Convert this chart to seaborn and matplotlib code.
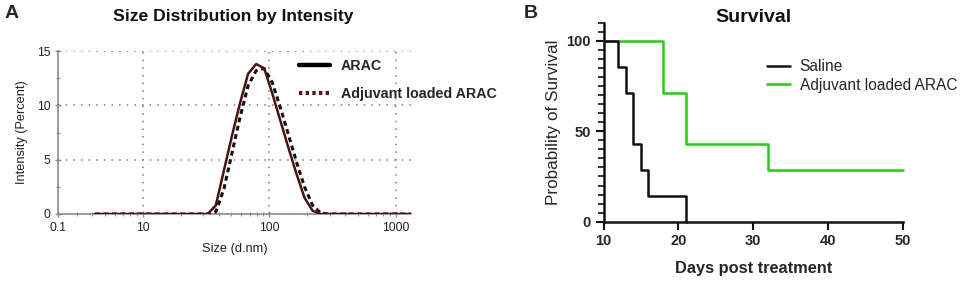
import numpy as np
import pandas as pd
import matplotlib
matplotlib.use("Agg")
import matplotlib.pyplot as plt
from matplotlib.lines import Line2D
from matplotlib.ticker import FixedLocator, LogLocator, NullFormatter, MultipleLocator
import seaborn as sns

sns.set_theme(style="white")
plt.rcParams['font.family'] = ['Liberation Sans', 'DejaVu Sans']

# ---------------- Data ----------------
# Panel A: DLS size bins (d.nm) and intensity (%)
size_nm = [4.187, 4.849, 5.615, 6.503, 7.531, 8.721, 10.10, 11.70, 13.54, 15.69,
           18.17, 21.04, 24.36, 28.21, 32.67, 37.84, 43.82, 50.75, 58.77, 68.06,
           78.82, 91.28, 105.7, 122.4, 141.8, 164.2, 190.1, 220.2, 255.0, 295.3,
           342.0, 396.1, 458.7, 531.2, 615.1, 712.4, 825.0, 955.4, 1106, 1281, 1484]
arac_int = [0, 0, 0, 0, 0, 0, 0, 0, 0, 0,
            0, 0, 0, 0, 0, 0.8, 4.0, 7.2, 10.2, 12.9,
            13.8, 13.4, 11.1, 8.6, 6.1, 3.7, 1.5, 0.3, 0, 0,
            0, 0, 0, 0, 0, 0, 0, 0, 0, 0, 0]
adj_int = [0, 0, 0, 0, 0, 0, 0, 0, 0, 0,
           0, 0, 0, 0, 0, 0.2, 2.3, 5.6, 8.9, 11.8,
           13.2, 13.4, 12.1, 9.8, 7.3, 4.8, 2.5, 0.8, 0.1, 0,
           0, 0, 0, 0, 0, 0, 0, 0, 0, 0, 0]
a_xtick_labels = ['0.1', '10', '100', '1000']

# Panel B: Kaplan-Meier survival
saline_days = [10, 12, 13, 14, 15, 16, 21]
saline_surv = [100, 85.7, 71.4, 42.9, 28.6, 14.3, 0]
adj_days = [10, 18, 21, 32, 50]
adj_surv = [100, 71.4, 42.9, 28.6, 28.6]
b_labels = ['Saline', 'Adjuvant loaded ARAC']

# ---------------- Figure ----------------
W, H = 967, 282
fig = plt.figure(figsize=(W / 100, H / 100), dpi=100)

def fx(px):
    return px / W

def fy(py):
    return 1 - py / H

# ---- Panel A ----
axA = fig.add_axes([fx(58), fy(214), fx(411) - fx(58), fy(51) - fy(214)])
dfa = pd.DataFrame({'size': size_nm, 'arac': arac_int, 'adj': adj_int})
sns.lineplot(data=dfa, x='size', y='adj', ax=axA, color='#141010',
             linewidth=2.2, linestyle=(0, (1.6, 1.2)), estimator=None, sort=False, zorder=3)
sns.lineplot(data=dfa, x='size', y='arac', ax=axA, color='#4a1212',
             linewidth=1.8, estimator=None, sort=False, zorder=4)
axA.set_xscale('log')
xl, xr = 2.14, 1320
axA.set_xlim(xl, xr)
axA.set_ylim(0, 15)
for gx in [10, 100, 1000]:
    axA.axvline(gx, color='#7a7a7a', linestyle=(0, (1, 4)), linewidth=1.1, zorder=1)
for gy in [5, 10, 15]:
    axA.axhline(gy, color='#7a7a7a', linestyle=(0, (1, 4)), linewidth=1.1, zorder=1)
axA.xaxis.set_major_locator(FixedLocator([xl, 10, 100, 1000]))
axA.set_xticklabels(a_xtick_labels)
axA.xaxis.set_minor_locator(LogLocator(base=10, subs=np.arange(2, 10)))
axA.xaxis.set_minor_formatter(NullFormatter())
axA.yaxis.set_major_locator(FixedLocator([0, 5, 10, 15]))
axA.yaxis.set_minor_locator(MultipleLocator(2.5))
for s in ['top', 'right']:
    axA.spines[s].set_visible(False)
for s in ['left', 'bottom']:
    axA.spines[s].set_color('#8a8a8a')
    axA.spines[s].set_linewidth(1.2)
axA.tick_params(which='major', direction='inout', length=5, width=1, color='#8a8a8a',
                labelsize=8.7, labelcolor='#222222', pad=3, left=True, bottom=True)
axA.tick_params(which='minor', direction='inout', length=3, width=0.8, color='#8a8a8a',
                left=True, bottom=True)
axA.set_xlabel('Size (d.nm)', fontsize=9.3, color='#222222', labelpad=7)
axA.set_ylabel('Intensity (Percent)', fontsize=9.2, color='#222222', labelpad=6)
fig.text(fx(233), fy(17), 'Size Distribution by Intensity', ha='center', va='center',
         fontsize=12.6, fontweight='bold', color='#111111')
fig.text(fx(5), fy(13), 'A', ha='left', va='center', fontsize=14, fontweight='bold')
hA = [Line2D([], [], color='black', linewidth=3.2),
      Line2D([], [], color='#5a1616', linewidth=3, linestyle=(0, (0.8, 0.8)))]
fig.legend(hA, ['ARAC', 'Adjuvant loaded ARAC'], loc='upper left',
           bbox_to_anchor=(fx(299), fy(59)), frameon=False, borderpad=0,
           borderaxespad=0, handlelength=2.2, handletextpad=0.72,
           labelspacing=1.0, prop={'size': 10.3, 'weight': 'bold'})

# ---- Panel B ----
axB = fig.add_axes([fx(603.5), fy(221.7), fx(903) - fx(603.5), fy(22.7) - fy(221.7)])
dfs = pd.DataFrame({'day': saline_days, 'surv': saline_surv})
dfg = pd.DataFrame({'day': adj_days, 'surv': adj_surv})
sns.lineplot(data=dfg, x='day', y='surv', ax=axB, color='#22cc11', linewidth=1.8,
             drawstyle='steps-post', estimator=None, sort=False, zorder=3, clip_on=False)
sns.lineplot(data=dfs, x='day', y='surv', ax=axB, color='#111111', linewidth=1.8,
             drawstyle='steps-post', estimator=None, sort=False, zorder=4, clip_on=False)
axB.set_xlim(10, 50)
axB.set_ylim(0, 110)
axB.xaxis.set_major_locator(MultipleLocator(10))
axB.yaxis.set_major_locator(FixedLocator([0, 50, 100]))
axB.yaxis.set_minor_locator(MultipleLocator(5))
for s in ['top', 'right']:
    axB.spines[s].set_visible(False)
for s in ['left', 'bottom']:
    axB.spines[s].set_color('#111111')
    axB.spines[s].set_linewidth(1.8)
axB.tick_params(which='major', direction='out', length=6, width=1.5, color='#111111',
                labelsize=10.5, pad=3, left=True, bottom=True)
axB.tick_params(which='minor', direction='out', length=4, width=1.2, color='#111111',
                left=True, bottom=False)
for lab in axB.get_xticklabels() + axB.get_yticklabels():
    lab.set_fontweight('bold')
axB.set_xlabel('Days post treatment', fontsize=11.8, fontweight='bold', labelpad=9)
axB.set_ylabel('Probability of Survival', fontsize=12.3, labelpad=4)
fig.text(fx(753), fy(18), 'Survival', ha='center', va='center', fontsize=14,
         fontweight='bold', color='#111111')
fig.text(fx(524), fy(13), 'B', ha='left', va='center', fontsize=14, fontweight='bold')
hB = [Line2D([], [], color='#111111', linewidth=1.8),
      Line2D([], [], color='#22cc11', linewidth=1.8)]
fig.legend(hB, b_labels, loc='upper left', bbox_to_anchor=(fx(767), fy(59)),
           frameon=False, borderpad=0, borderaxespad=0, handlelength=1.45,
           handletextpad=0.65, labelspacing=0.25, prop={'size': 11.2})

fig.savefig('out.png', dpi=100)
